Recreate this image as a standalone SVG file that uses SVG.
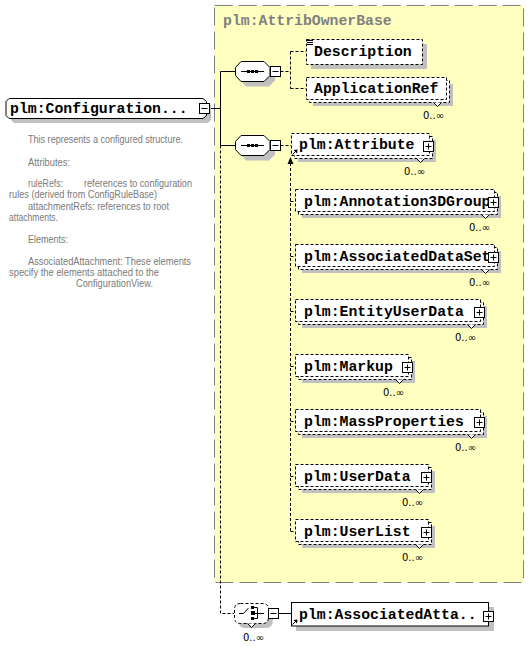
<svg xmlns="http://www.w3.org/2000/svg" xmlns:xlink="http://www.w3.org/1999/xlink" width="530" height="646" viewBox="0 0 530 646">
<style>
.shadow{fill:#c0c0c0;stroke:none}
.box{fill:#fff;stroke:#000;stroke-width:1}
.dash{stroke-dasharray:3,2}
.conn{fill:none;stroke:#000;stroke-width:1}
.lbl{font-family:"Liberation Mono","Courier New",monospace;font-weight:bold;font-size:14.8px;fill:#000}
.ttl{font-family:"Liberation Mono","Courier New",monospace;font-weight:bold;font-size:14.8px;fill:#808080}
.mult{font-family:"DejaVu Sans","Liberation Sans",sans-serif;font-size:10px;fill:#000}
.desc{font-family:"Liberation Sans",Arial,sans-serif;font-size:10px;fill:#7a7a7a}
</style>
<defs>
<g id="plus"><rect x="0.5" y="0.5" width="10" height="10" fill="#fff" stroke="#000"/><path d="M2.5 5.5H8.5M5.5 2.5V8.5" stroke="#000" fill="none"/></g>
<g id="minus"><rect x="0.5" y="0.5" width="10" height="10" fill="#fff" stroke="#000"/><path d="M2.5 5.5H8.5" stroke="#000" fill="none"/></g>
<polygon id="seqshape" points="6,0.5 29,0.5 35,6.5 35,14.5 29,20.5 6,20.5 0.5,14.5 0.5,6.5"/>
<g id="seqicon"><path d="M6 10.5H29" stroke="#000"/><rect x="12" y="9" width="3" height="3" fill="#000"/><rect x="16" y="9" width="3" height="3" fill="#000"/><rect x="20" y="9" width="3" height="3" fill="#000"/></g>
<g id="refarrow"><path d="M0.5 5.5L4 2" stroke="#000" fill="none"/><polygon points="5.5,0.5 1.5,1 5,4.5" fill="#000"/></g>
</defs>

<g id="base-AttribOwnerBase">
<rect x="214.5" y="5.5" width="309" height="577" fill="#ffffc0" stroke="#808080" stroke-dasharray="18,6"/>
<text class="ttl" x="223" y="25">plm:AttribOwnerBase</text>
</g>

<g id="connectors">
<path class="conn" d="M209.5 108.5H220.5M220.5 71.5V145.5M220.5 71.5H235M220.5 145.5H235"/>
<path class="conn dash" d="M220.5 145.5V613.5H234"/>
<path class="conn dash" d="M280.5 71.5H290.5M290.5 51.5V88.5M290.5 51.5H306M290.5 88.5H306"/>
<path class="conn dash" d="M280.5 145.5H291"/>
<path class="conn dash" d="M290.5 163V531.5M290.5 201.5H295M290.5 256.5H295M290.5 311.5H295M290.5 366.5H295M290.5 421.5H295M290.5 476.5H295M290.5 531.5H295"/>
<polygon points="290.5,157 287.5,164 293.5,164" fill="#000"/>
<path class="conn" d="M278.5 613.5H291"/>
</g>

<g id="node-Configuration">
<polygon class="shadow" points="14,103 208,103 211,106 211,120 208,123 14,123 11,120 11,106"/>
<polygon class="box" points="9,98.5 203,98.5 206.5,101.5 206.5,115.5 203,118.5 9,118.5 6,115.5 6,101.5"/>
<text class="lbl" x="10" y="113">plm:Configuration...</text>
<use xlink:href="#minus" x="199" y="103"/>
<text class="desc" x="28" y="143" textLength="155" lengthAdjust="spacingAndGlyphs">This represents a configured structure.</text>
<text class="desc" x="28" y="166" textLength="42" lengthAdjust="spacingAndGlyphs">Attributes:</text>
<text class="desc" x="28" y="187" textLength="35" lengthAdjust="spacingAndGlyphs">ruleRefs:</text>
<text class="desc" x="84" y="187" textLength="108" lengthAdjust="spacingAndGlyphs">references to configuration</text>
<text class="desc" x="9" y="198" textLength="148" lengthAdjust="spacingAndGlyphs">rules (derived from ConfigRuleBase)</text>
<text class="desc" x="28" y="210" textLength="141" lengthAdjust="spacingAndGlyphs">attachmentRefs: references to root</text>
<text class="desc" x="9" y="221" textLength="49" lengthAdjust="spacingAndGlyphs">attachments.</text>
<text class="desc" x="28" y="243" textLength="40" lengthAdjust="spacingAndGlyphs">Elements:</text>
<text class="desc" x="28" y="265" textLength="163" lengthAdjust="spacingAndGlyphs">AssociatedAttachment: These elements</text>
<text class="desc" x="9" y="276" textLength="150" lengthAdjust="spacingAndGlyphs">specify the elements attached to the</text>
<text class="desc" x="76" y="287" textLength="77" lengthAdjust="spacingAndGlyphs">ConfigurationView.</text>
</g>

<g id="seq1">
<use xlink:href="#seqshape" x="240" y="66" class="shadow"/>
<use xlink:href="#seqshape" x="235" y="61" class="box"/>
<use xlink:href="#seqicon" x="235" y="61"/>
<use xlink:href="#minus" x="270" y="66"/>
</g>

<g id="seq2">
<use xlink:href="#seqshape" x="240" y="140" class="shadow"/>
<use xlink:href="#seqshape" x="235" y="135" class="box"/>
<use xlink:href="#seqicon" x="235" y="135"/>
<use xlink:href="#minus" x="270" y="140"/>
</g>

<g id="node-Description">
<rect class="shadow" x="311" y="44" width="116" height="25"/>
<rect class="box dash" x="306.5" y="39.5" width="116" height="25"/>
<path d="M307 40.5H313M307 42.5H313M307 44.5H313" stroke="#000"/>
<text class="lbl" x="314" y="56">Description</text>
</g>

<g id="node-ApplicationRef">
<rect class="shadow" x="313" y="84" width="140" height="22"/>
<rect class="box dash" x="309.5" y="80.5" width="140" height="22"/>
<rect class="box dash" x="306.5" y="77.5" width="140" height="22"/>
<text class="lbl" x="314" y="93">ApplicationRef</text>
<path d="M433.5 102.5L437.5 106.5L441.5 102.5" fill="#fff" stroke="#000"/>
<text class="mult" x="444" y="119" text-anchor="end">0..∞</text>
</g>

<g id="node-Attribute">
<rect class="shadow" x="298" y="140" width="138" height="22"/>
<rect class="box dash" x="294.5" y="136.5" width="138" height="22"/>
<rect class="box dash" x="291.5" y="133.5" width="138" height="22"/>
<text class="lbl" x="299" y="149">plm:Attribute</text>
<use xlink:href="#refarrow" x="292" y="149"/>
<use xlink:href="#plus" x="423" y="141"/>
<path d="M416.5 158.5L420.5 162.5L424.5 158.5" fill="#fff" stroke="#000"/>
<text class="mult" x="425" y="175" text-anchor="end">0..∞</text>
</g>

<g id="node-Annotation3DGroup">
<rect class="shadow" x="302" y="196" width="199" height="22"/>
<rect class="box dash" x="298.5" y="192.5" width="199" height="22"/>
<rect class="box dash" x="295.5" y="189.5" width="199" height="22"/>
<text class="lbl" x="304" y="206">plm:Annotation3DGroup</text>
<use xlink:href="#plus" x="488" y="197"/>
<path d="M481.5 214.5L485.5 218.5L489.5 214.5" fill="#fff" stroke="#000"/>
<text class="mult" x="490" y="231" text-anchor="end">0..∞</text>
</g>

<g id="node-AssociatedDataSet">
<rect class="shadow" x="302" y="251" width="199" height="22"/>
<rect class="box dash" x="298.5" y="247.5" width="199" height="22"/>
<rect class="box dash" x="295.5" y="244.5" width="199" height="22"/>
<text class="lbl" x="304" y="261">plm:AssociatedDataSet</text>
<use xlink:href="#plus" x="488" y="252"/>
<path d="M481.5 269.5L485.5 273.5L489.5 269.5" fill="#fff" stroke="#000"/>
<text class="mult" x="490" y="286" text-anchor="end">0..∞</text>
</g>

<g id="node-EntityUserData">
<rect class="shadow" x="302" y="306" width="185" height="22"/>
<rect class="box dash" x="298.5" y="302.5" width="185" height="22"/>
<rect class="box dash" x="295.5" y="299.5" width="185" height="22"/>
<text class="lbl" x="304" y="316">plm:EntityUserData</text>
<use xlink:href="#plus" x="474" y="307"/>
<path d="M467.5 324.5L471.5 328.5L475.5 324.5" fill="#fff" stroke="#000"/>
<text class="mult" x="476" y="341" text-anchor="end">0..∞</text>
</g>

<g id="node-Markup">
<rect class="shadow" x="302" y="361" width="113" height="22"/>
<rect class="box dash" x="298.5" y="357.5" width="113" height="22"/>
<rect class="box dash" x="295.5" y="354.5" width="113" height="22"/>
<text class="lbl" x="304" y="371">plm:Markup</text>
<use xlink:href="#plus" x="402" y="362"/>
<path d="M395.5 379.5L399.5 383.5L403.5 379.5" fill="#fff" stroke="#000"/>
<text class="mult" x="404" y="396" text-anchor="end">0..∞</text>
</g>

<g id="node-MassProperties">
<rect class="shadow" x="302" y="416" width="185" height="22"/>
<rect class="box dash" x="298.5" y="412.5" width="185" height="22"/>
<rect class="box dash" x="295.5" y="409.5" width="185" height="22"/>
<text class="lbl" x="304" y="426">plm:MassProperties</text>
<use xlink:href="#plus" x="474" y="417"/>
<path d="M467.5 434.5L471.5 438.5L475.5 434.5" fill="#fff" stroke="#000"/>
<text class="mult" x="476" y="451" text-anchor="end">0..∞</text>
</g>

<g id="node-UserData">
<rect class="shadow" x="302" y="471" width="133" height="22"/>
<rect class="box dash" x="298.5" y="467.5" width="133" height="22"/>
<rect class="box dash" x="295.5" y="464.5" width="133" height="22"/>
<text class="lbl" x="304" y="481">plm:UserData</text>
<use xlink:href="#plus" x="421" y="472"/>
<path d="M415.5 489.5L419.5 493.5L423.5 489.5" fill="#fff" stroke="#000"/>
<text class="mult" x="423" y="506" text-anchor="end">0..∞</text>
</g>

<g id="node-UserList">
<rect class="shadow" x="302" y="526" width="133" height="22"/>
<rect class="box dash" x="298.5" y="522.5" width="133" height="22"/>
<rect class="box dash" x="295.5" y="519.5" width="133" height="22"/>
<text class="lbl" x="304" y="536">plm:UserList</text>
<use xlink:href="#plus" x="421" y="527"/>
<path d="M415.5 544.5L419.5 548.5L423.5 544.5" fill="#fff" stroke="#000"/>
<text class="mult" x="423" y="561" text-anchor="end">0..∞</text>
</g>

<g id="choice">
<path class="shadow" d="M245 608H268Q273 608 273 613V619Q273 628 266 628H245Q239 628 239 622V614Q239 608 245 608Z"/>
<path class="box dash" d="M240.5 603.5H262.5Q268.5 603.5 268.5 609.5V617.5Q268.5 623.5 262.5 623.5H240.5Q234.5 623.5 234.5 617.5V609.5Q234.5 603.5 240.5 603.5Z"/>
<path d="M239 613.5H243.5L248.5 608" stroke="#000" fill="none"/>
<rect x="251" y="606" width="3" height="3" fill="#000"/>
<rect x="251" y="611" width="4" height="4" fill="#000"/>
<rect x="251" y="617" width="3" height="3" fill="#000"/>
<path d="M254 607.5H257.5V618.5H254M255 613.5H264" stroke="#000" fill="none"/>
<use xlink:href="#minus" x="268" y="608"/>
<path d="M247.5 623.5L251.5 627.5L255.5 623.5" fill="#fff" stroke="#000"/>
<text class="mult" x="243" y="641">0..∞</text>
</g>

<g id="node-AssociatedAttachment">
<rect class="shadow" x="296" y="607" width="198" height="24"/>
<rect class="box" x="291.5" y="602.5" width="197" height="23.5"/>
<text class="lbl" x="299" y="619">plm:AssociatedAtta..</text>
<use xlink:href="#refarrow" x="292" y="619"/>
<use xlink:href="#plus" x="483" y="611"/>
</g>
</svg>
